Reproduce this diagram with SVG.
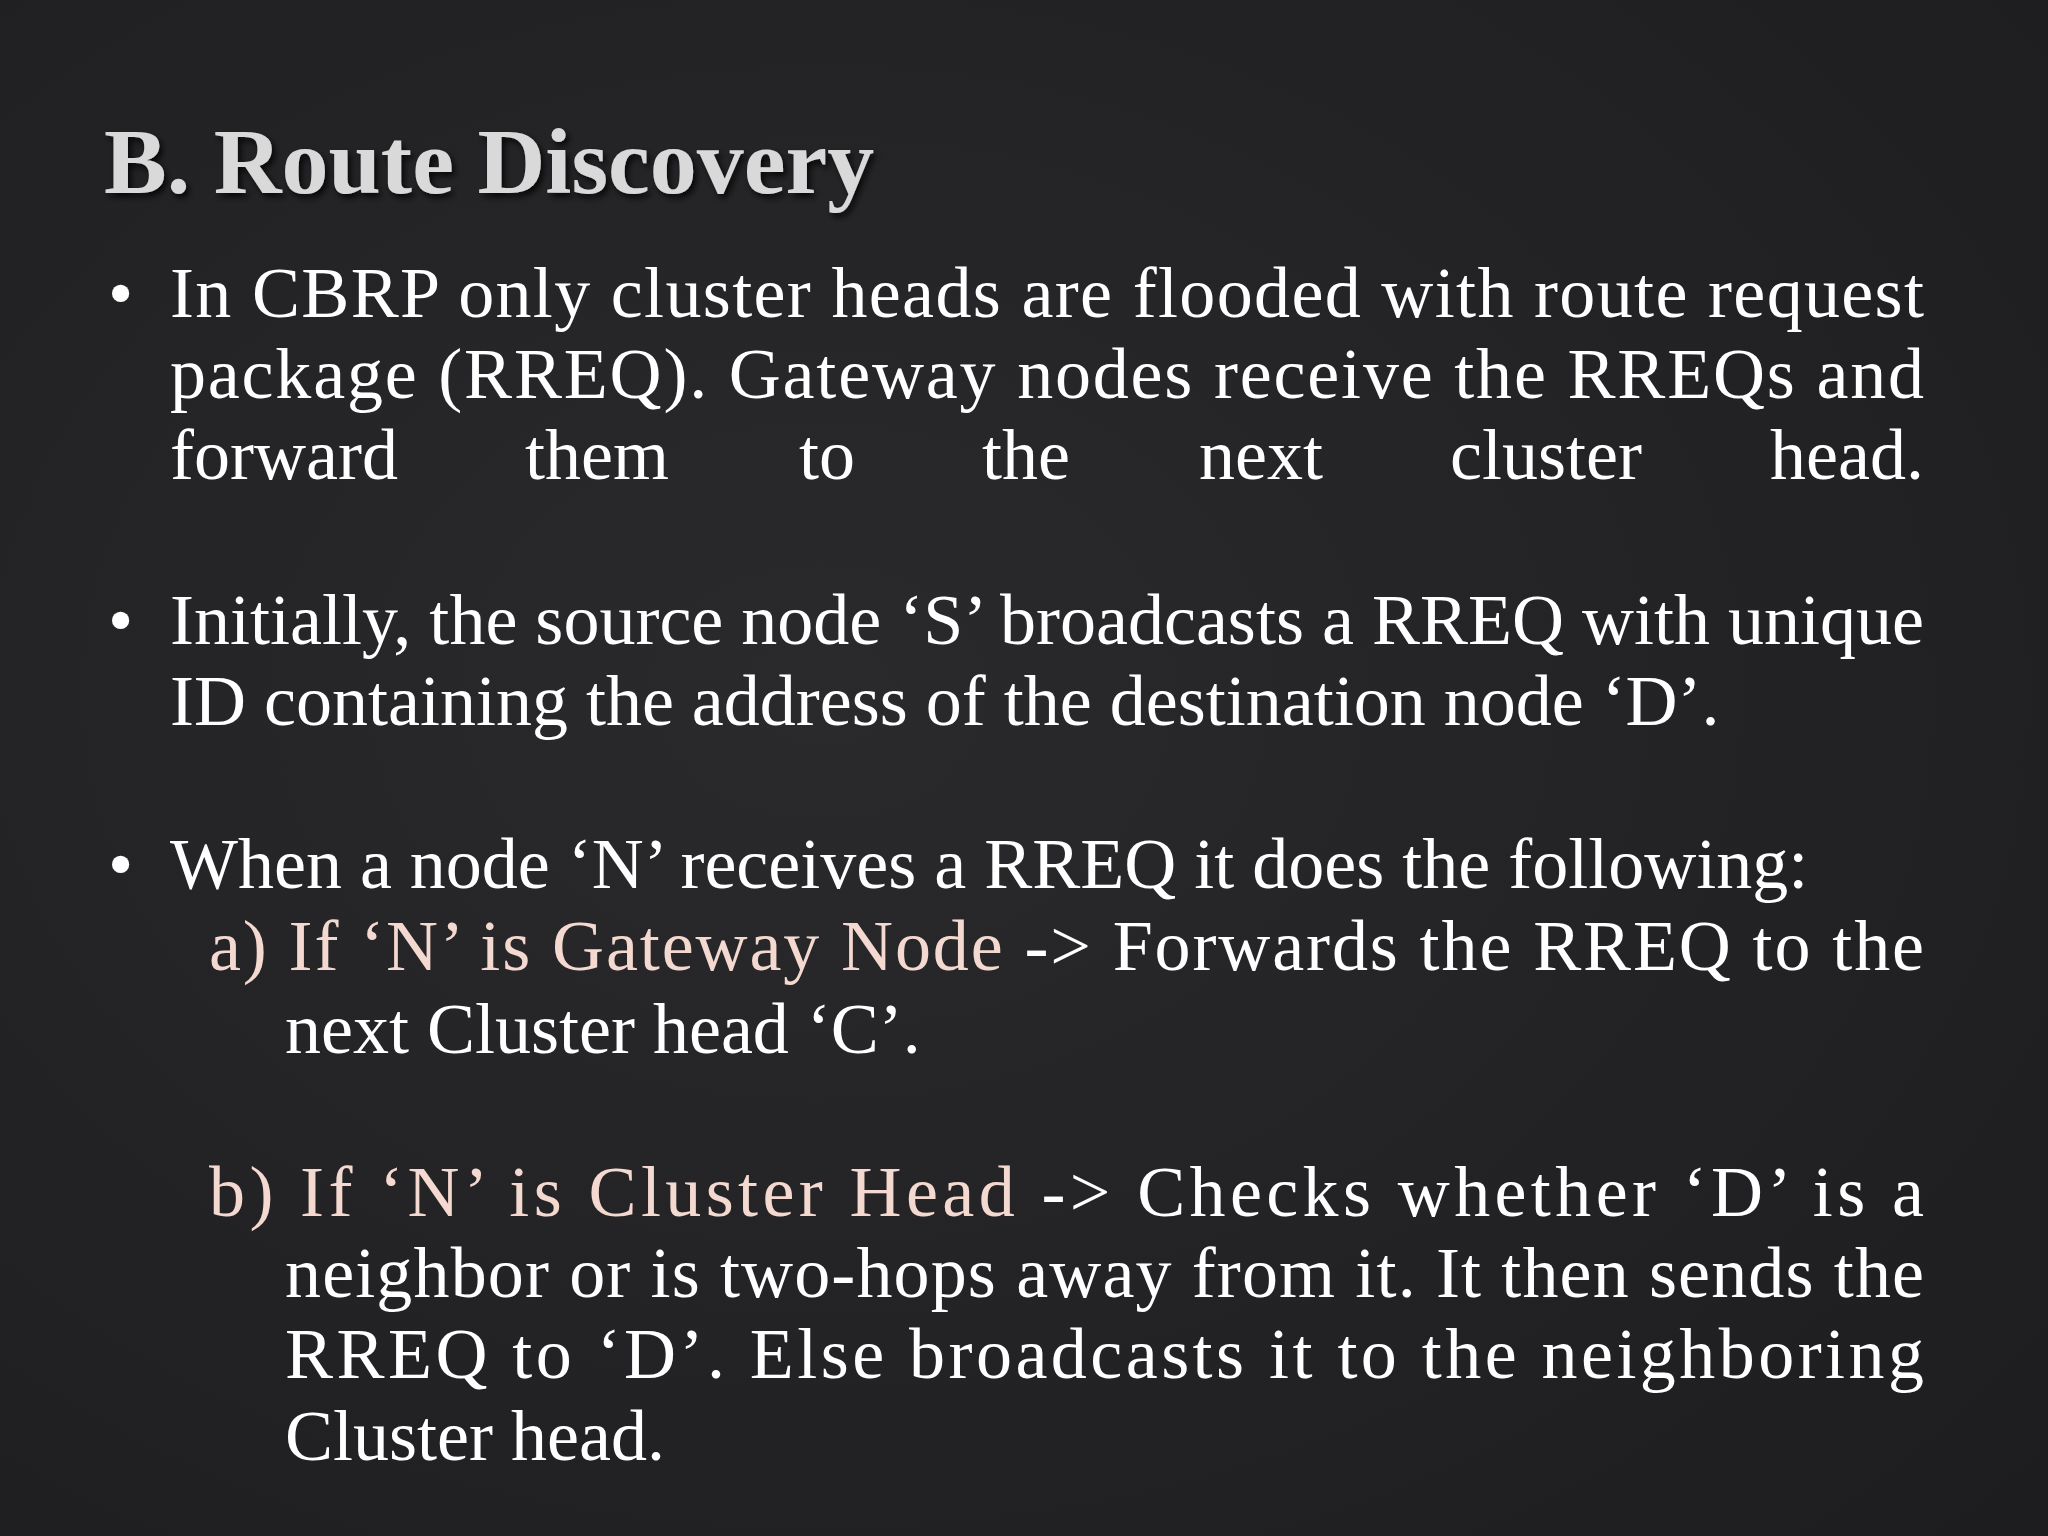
<svg xmlns="http://www.w3.org/2000/svg" width="2048" height="1536" viewBox="0 0 2048 1536">
<defs>
<radialGradient id="bg" cx="0.4" cy="0.45" r="0.8"><stop offset="0" stop-color="#2a292c"/><stop offset="1" stop-color="#1d1c1f"/></radialGradient>
<filter id="sh"><feDropShadow dx="3" dy="4" stdDeviation="3" flood-color="#000" flood-opacity="0.8"/></filter>
</defs>
<style>
.t{font-family:"Liberation Serif","Times New Roman",serif;font-size:72px;fill:#ffffff}
.p{fill:#f3d9cf}
.h{font-family:"Liberation Serif","Times New Roman",serif;font-size:94px;font-weight:bold;fill:#d9d9d9}
</style>
<rect width="2048" height="1536" fill="url(#bg)"/>
<text class="h" x="104" y="193" filter="url(#sh)">B. Route Discovery</text>
<g class="t">
<text x="108" y="317">•</text>
<text x="170" y="317" textLength="1754" lengthAdjust="spacing">In CBRP only cluster heads are flooded with route request</text>
<text x="170" y="398" textLength="1754" lengthAdjust="spacing">package (RREQ). Gateway nodes receive the RREQs and</text>
<text x="170" y="479">forward</text><text x="525" y="479">them</text><text x="799" y="479">to</text><text x="982" y="479">the</text><text x="1199" y="479">next</text><text x="1450" y="479">cluster</text><text x="1924" y="479" text-anchor="end">head.</text>
<text x="108" y="644">•</text>
<text x="170" y="644" textLength="1754" lengthAdjust="spacing">Initially, the source node ‘S’ broadcasts a RREQ with unique</text>
<text x="170" y="725">ID containing the address of the destination node ‘D’.</text>
<text x="108" y="888">•</text>
<text x="170" y="888">When a node ‘N’ receives a RREQ it does the following:</text>
<text x="209" y="970" textLength="1715" lengthAdjust="spacing"><tspan class="p">a) If ‘N’ is Gateway Node</tspan> -&gt; Forwards the RREQ to the</text>
<text x="285" y="1053">next Cluster head ‘C’.</text>
<text x="209" y="1216" textLength="1715" lengthAdjust="spacing"><tspan class="p">b) If ‘N’ is Cluster Head</tspan> -&gt; Checks whether ‘D’ is a</text>
<text x="285" y="1297" textLength="1639" lengthAdjust="spacing">neighbor or is two-hops away from it. It then sends the</text>
<text x="285" y="1378" textLength="1639" lengthAdjust="spacing">RREQ to ‘D’. Else broadcasts it to the neighboring</text>
<text x="285" y="1460">Cluster head.</text>
</g>
</svg>
